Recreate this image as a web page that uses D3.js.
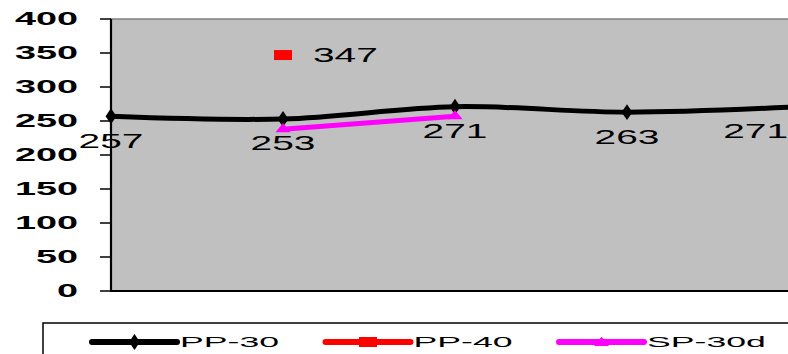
<!DOCTYPE html>
<html><head><meta charset="utf-8">
<script src="https://cdn.jsdelivr.net/npm/d3@7"></script>
<style>
html,body{margin:0;padding:0;background:#fff;}
svg{display:block;font-family:"Liberation Sans",Arial,sans-serif;}
</style></head>
<body><svg id="c" width="788" height="354"></svg>
<script>
const categories = ["1","2","3","4","5"];
const pp30 = [257,253,271,263,271];
const pp40 = [null,347,null,null,null];
const sp30d = [null,238,257,null,null];
const yTicks = [0,50,100,150,200,250,300,350,400];
const seriesNames = ["PP-30","PP-40","SP-30d"];
const seriesColors = ["#000000","#ff0000","#ff00ff"];

const W = 788, H = 354;
const svg = d3.select("#c");
const plot = {left:111, top:19, bottom:291, step:172};
const x = d3.scalePoint().domain(categories).range([plot.left, plot.left + plot.step*(categories.length-1)]);
const y = d3.scaleLinear().domain([0,400]).range([plot.bottom, plot.top]);
const plotRight = x(categories[categories.length-1]);

// plot area
svg.append("rect").attr("x",plot.left).attr("y",plot.top)
  .attr("width",plotRight-plot.left).attr("height",plot.bottom-plot.top)
  .attr("fill","#c0c0c0").attr("stroke","#808080").attr("stroke-width",1.5);

// axes
svg.append("line").attr("x1",plot.left).attr("x2",plot.left).attr("y1",plot.top).attr("y2",plot.bottom+1)
  .attr("stroke","#000").attr("stroke-width",2.2);
svg.append("line").attr("x1",plot.left).attr("x2",W+10).attr("y1",plot.bottom).attr("y2",plot.bottom)
  .attr("stroke","#000").attr("stroke-width",2.2);

function stretchText(g, tx, ty, sx, txt, opts){
  const t = g.append("text").attr("transform",`translate(${tx},${ty}) scale(${sx},1)`)
    .attr("text-anchor",opts.anchor||"start").attr("dy",opts.dy||"0.35em")
    .attr("font-size",opts.size).attr("font-weight",opts.weight||"normal")
    .attr("fill","#000").text(txt);
  return t;
}

// y ticks
const ya = svg.append("g");
yTicks.forEach(v=>{
  ya.append("line").attr("x1",plot.left-11).attr("x2",plot.left).attr("y1",y(v)).attr("y2",y(v))
    .attr("stroke","#000").attr("stroke-width",1.5);
  stretchText(ya, plot.left-33, y(v), 2.1, v, {anchor:"end", size:18, weight:"bold"});
});

// PP-30 line (smoothed)
const line = d3.line().defined(d=>d.v!=null).x(d=>x(d.c)).y(d=>y(d.v)).curve(d3.curveCatmullRom.alpha(0.5));
const d30 = categories.map((c,i)=>({c,v:pp30[i]}));
svg.append("path").attr("d",line(d30)).attr("fill","none").attr("stroke",seriesColors[0]).attr("stroke-width",5);
const diamond = d3.symbol().type(d3.symbolDiamond).size(60);
d30.forEach(d=>{
  svg.append("path").attr("d",diamond()).attr("transform",`translate(${x(d.c)},${y(d.v)}) scale(1.3,1.1)`).attr("fill","#000");
});

// SP-30d line
const dsp = categories.map((c,i)=>({c,v:sp30d[i]})).filter(d=>d.v!=null);
svg.append("path").attr("d",d3.line().x(d=>x(d.c)).y(d=>y(d.v))(dsp)).attr("fill","none")
  .attr("stroke",seriesColors[2]).attr("stroke-width",5);
const tri = d3.symbol().type(d3.symbolTriangle).size(50);
dsp.forEach(d=>{
  svg.append("path").attr("d",tri()).attr("transform",`translate(${x(d.c)},${y(d.v)}) scale(1.4,1)`).attr("fill",seriesColors[2]);
});

// PP-40 point
const d40 = categories.map((c,i)=>({c,v:pp40[i]})).filter(d=>d.v!=null);
const labels = svg.append("g");
d40.forEach(d=>{
  svg.append("rect").attr("x",x(d.c)-9).attr("y",y(d.v)-5).attr("width",18).attr("height",10).attr("fill",seriesColors[1]);
  stretchText(labels, x(d.c)+30, y(d.v), 1.85, d.v, {size:21});
});

// PP-30 data labels
d30.forEach(d=>{
  const t = stretchText(labels, 0, 0, 1.85, d.v, {anchor:"middle", size:21});
  const w = t.node().getComputedTextLength()*1.85;
  const cx = Math.min(x(d.c), W - w/2);
  t.attr("transform",`translate(${cx},${y(d.v)+24}) scale(1.85,1)`);
});

// legend
const lg = svg.append("g");
lg.append("rect").attr("x",43).attr("y",323).attr("width",W).attr("height",60)
  .attr("fill","#fff").attr("stroke","#000").attr("stroke-width",1.5);
seriesNames.forEach((n,i)=>{
  const x0 = 92 + i*233.5, ly = 342;
  lg.append("line").attr("x1",x0).attr("x2",x0+85).attr("y1",ly).attr("y2",ly)
    .attr("stroke",seriesColors[i]).attr("stroke-width",6).attr("stroke-linecap","round");
  const cx = x0+42.5;
  if(i===0) lg.append("path").attr("d",diamond()).attr("transform",`translate(${cx},${ly}) scale(1.3,1.1)`).attr("fill","#000");
  if(i===1) lg.append("rect").attr("x",cx-9).attr("y",ly-5).attr("width",18).attr("height",10).attr("fill",seriesColors[1]);
  if(i===2) lg.append("path").attr("d",tri()).attr("transform",`translate(${cx},${ly+1}) scale(1.4,1)`).attr("fill",seriesColors[2]);
  stretchText(lg, x0+88, ly, 2.3, n, {size:15.5});
});
</script></body></html>
